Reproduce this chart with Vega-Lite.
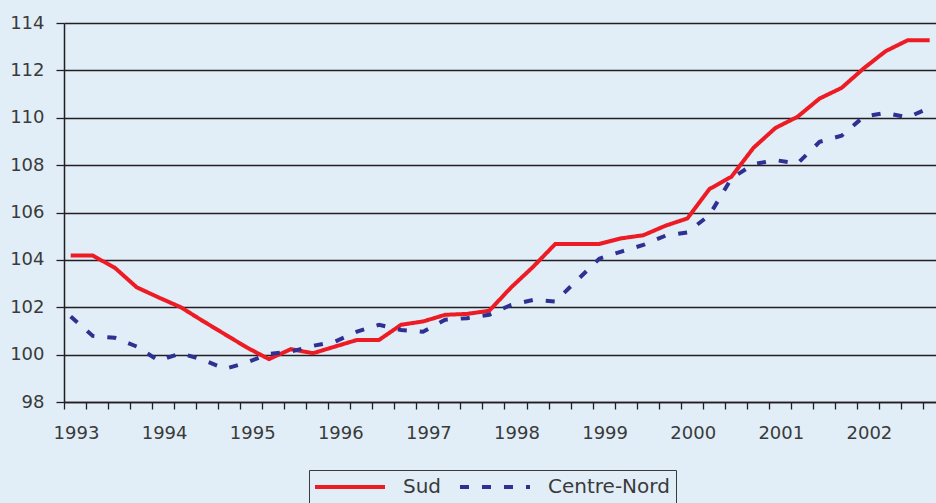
{
  "$schema": "https://vega.github.io/schema/vega-lite/v6.json",
  "width": 872,
  "height": 379,
  "autosize": {"type": "none"},
  "padding": {"left": 64, "top": 23, "right": 0, "bottom": 101},
  "background": "#e1eef7",
  "config": {"view": {"stroke": null, "fill": "#e1eef7"}, "font": "DejaVu Sans"},
  "data": {"values": [
    {"annee": 1993.00, "serie": "Sud", "indice": 104.18},
    {"annee": 1993.25, "serie": "Sud", "indice": 104.18},
    {"annee": 1993.50, "serie": "Sud", "indice": 103.67},
    {"annee": 1993.75, "serie": "Sud", "indice": 102.84},
    {"annee": 1994.00, "serie": "Sud", "indice": 102.41},
    {"annee": 1994.25, "serie": "Sud", "indice": 102.00},
    {"annee": 1994.50, "serie": "Sud", "indice": 101.42},
    {"annee": 1994.75, "serie": "Sud", "indice": 100.86},
    {"annee": 1995.00, "serie": "Sud", "indice": 100.30},
    {"annee": 1995.25, "serie": "Sud", "indice": 99.81},
    {"annee": 1995.50, "serie": "Sud", "indice": 100.23},
    {"annee": 1995.75, "serie": "Sud", "indice": 100.06},
    {"annee": 1996.00, "serie": "Sud", "indice": 100.34},
    {"annee": 1996.25, "serie": "Sud", "indice": 100.62},
    {"annee": 1996.50, "serie": "Sud", "indice": 100.62},
    {"annee": 1996.75, "serie": "Sud", "indice": 101.26},
    {"annee": 1997.00, "serie": "Sud", "indice": 101.40},
    {"annee": 1997.25, "serie": "Sud", "indice": 101.68},
    {"annee": 1997.50, "serie": "Sud", "indice": 101.72},
    {"annee": 1997.75, "serie": "Sud", "indice": 101.85},
    {"annee": 1998.00, "serie": "Sud", "indice": 102.84},
    {"annee": 1998.25, "serie": "Sud", "indice": 103.71},
    {"annee": 1998.50, "serie": "Sud", "indice": 104.67},
    {"annee": 1998.75, "serie": "Sud", "indice": 104.67},
    {"annee": 1999.00, "serie": "Sud", "indice": 104.67},
    {"annee": 1999.25, "serie": "Sud", "indice": 104.91},
    {"annee": 1999.50, "serie": "Sud", "indice": 105.04},
    {"annee": 1999.75, "serie": "Sud", "indice": 105.44},
    {"annee": 2000.00, "serie": "Sud", "indice": 105.75},
    {"annee": 2000.25, "serie": "Sud", "indice": 106.99},
    {"annee": 2000.50, "serie": "Sud", "indice": 107.51},
    {"annee": 2000.75, "serie": "Sud", "indice": 108.73},
    {"annee": 2001.00, "serie": "Sud", "indice": 109.57},
    {"annee": 2001.25, "serie": "Sud", "indice": 110.04},
    {"annee": 2001.50, "serie": "Sud", "indice": 110.81},
    {"annee": 2001.75, "serie": "Sud", "indice": 111.26},
    {"annee": 2002.00, "serie": "Sud", "indice": 112.08},
    {"annee": 2002.25, "serie": "Sud", "indice": 112.81},
    {"annee": 2002.50, "serie": "Sud", "indice": 113.27},
    {"annee": 2002.75, "serie": "Sud", "indice": 113.27},
    {"annee": 1993.00, "serie": "Centre-Nord", "indice": 101.61},
    {"annee": 1993.25, "serie": "Centre-Nord", "indice": 100.79},
    {"annee": 1993.50, "serie": "Centre-Nord", "indice": 100.71},
    {"annee": 1993.75, "serie": "Centre-Nord", "indice": 100.34},
    {"annee": 1994.00, "serie": "Centre-Nord", "indice": 99.74},
    {"annee": 1994.25, "serie": "Centre-Nord", "indice": 100.06},
    {"annee": 1994.50, "serie": "Centre-Nord", "indice": 99.78},
    {"annee": 1994.75, "serie": "Centre-Nord", "indice": 99.40},
    {"annee": 1995.00, "serie": "Centre-Nord", "indice": 99.67},
    {"annee": 1995.25, "serie": "Centre-Nord", "indice": 100.03},
    {"annee": 1995.50, "serie": "Centre-Nord", "indice": 100.13},
    {"annee": 1995.75, "serie": "Centre-Nord", "indice": 100.37},
    {"annee": 1996.00, "serie": "Centre-Nord", "indice": 100.55},
    {"annee": 1996.25, "serie": "Centre-Nord", "indice": 100.97},
    {"annee": 1996.50, "serie": "Centre-Nord", "indice": 101.26},
    {"annee": 1996.75, "serie": "Centre-Nord", "indice": 101.04},
    {"annee": 1997.00, "serie": "Centre-Nord", "indice": 100.97},
    {"annee": 1997.25, "serie": "Centre-Nord", "indice": 101.47},
    {"annee": 1997.50, "serie": "Centre-Nord", "indice": 101.54},
    {"annee": 1997.75, "serie": "Centre-Nord", "indice": 101.68},
    {"annee": 1998.00, "serie": "Centre-Nord", "indice": 102.10},
    {"annee": 1998.25, "serie": "Centre-Nord", "indice": 102.31},
    {"annee": 1998.50, "serie": "Centre-Nord", "indice": 102.24},
    {"annee": 1998.75, "serie": "Centre-Nord", "indice": 103.15},
    {"annee": 1999.00, "serie": "Centre-Nord", "indice": 104.05},
    {"annee": 1999.25, "serie": "Centre-Nord", "indice": 104.35},
    {"annee": 1999.50, "serie": "Centre-Nord", "indice": 104.63},
    {"annee": 1999.75, "serie": "Centre-Nord", "indice": 105.02},
    {"annee": 2000.00, "serie": "Centre-Nord", "indice": 105.16},
    {"annee": 2000.25, "serie": "Centre-Nord", "indice": 105.89},
    {"annee": 2000.50, "serie": "Centre-Nord", "indice": 107.44},
    {"annee": 2000.75, "serie": "Centre-Nord", "indice": 108.04},
    {"annee": 2001.00, "serie": "Centre-Nord", "indice": 108.21},
    {"annee": 2001.25, "serie": "Centre-Nord", "indice": 108.07},
    {"annee": 2001.50, "serie": "Centre-Nord", "indice": 108.98},
    {"annee": 2001.75, "serie": "Centre-Nord", "indice": 109.24},
    {"annee": 2002.00, "serie": "Centre-Nord", "indice": 110.04},
    {"annee": 2002.25, "serie": "Centre-Nord", "indice": 110.21},
    {"annee": 2002.50, "serie": "Centre-Nord", "indice": 110.01},
    {"annee": 2002.75, "serie": "Centre-Nord", "indice": 110.42}
  ]},
  "mark": {"type": "line", "strokeWidth": 4},
  "encoding": {
    "x": {
      "field": "annee",
      "type": "quantitative",
      "scale": {"domain": [1992.924, 2002.822], "nice": false, "zero": false},
      "axis": {
        "title": null,
        "values": [1992.924, 1993.174, 1993.424, 1993.674, 1993.924, 1994.174, 1994.424, 1994.674, 1994.924, 1995.174, 1995.424, 1995.674, 1995.924, 1996.174, 1996.424, 1996.674, 1996.924, 1997.174, 1997.424, 1997.674, 1997.924, 1998.174, 1998.424, 1998.674, 1998.924, 1999.174, 1999.424, 1999.674, 1999.924, 2000.174, 2000.424, 2000.674, 2000.924, 2001.174, 2001.424, 2001.674, 2001.924, 2002.174, 2002.424, 2002.674],
        "labelExpr": "round((datum.value - 1992.924) * 4) % 4 == 0 ? '' + (1993 + round((datum.value - 1992.924) * 4) / 4) : ''",
        "grid": false,
        "domainColor": "#231f20",
        "domainWidth": 1.5,
        "tickColor": "#231f20",
        "tickWidth": 1.3,
        "tickSize": 7,
        "labelOffset": 12,
        "labelPadding": 15,
        "labelFontSize": 18,
        "labelColor": "#3a3a3a",
        "labelOverlap": false,
        "labelFlush": false,
        "labelBound": false
      }
    },
    "y": {
      "field": "indice",
      "type": "quantitative",
      "scale": {"domain": [98, 114], "nice": false, "zero": false},
      "axis": {
        "title": null,
        "values": [98, 100, 102, 104, 106, 108, 110, 112, 114],
        "grid": true,
        "gridColor": "#231f20",
        "gridWidth": 1.3,
        "domainColor": "#231f20",
        "domainWidth": 1.5,
        "tickColor": "#231f20",
        "tickWidth": 1.3,
        "tickSize": 8,
        "labelPadding": 12,
        "labelFontSize": 18,
        "labelColor": "#3a3a3a"
      }
    },
    "color": {
      "field": "serie",
      "type": "nominal",
      "scale": {"domain": ["Sud", "Centre-Nord"], "range": ["#ed1c24", "#2e3192"]},
      "legend": {
        "title": null,
        "orient": "none",
        "direction": "horizontal",
        "legendX": 245,
        "legendY": 447,
        "padding": 6,
        "strokeColor": "#3a3a3a",
        "fillColor": "#e1eef7",
        "symbolType": "M-3.89,0H3.89",
        "symbolSize": 324,
        "symbolStrokeWidth": 4,
        "symbolOffset": 24,
        "labelFontSize": 20,
        "labelColor": "#3a3a3a",
        "labelOffset": 42,
        "columnPadding": 9,
        "encode": {"symbols": {"update": {"strokeDash": {"signal": "datum.value === 'Sud' ? [1, 0] : [10, 18]"}}}}
      }
    },
    "strokeDash": {
      "field": "serie",
      "type": "nominal",
      "scale": {"domain": ["Sud", "Centre-Nord"], "range": [[1, 0], [9, 13]]},
      "legend": {
        "title": null,
        "orient": "none",
        "direction": "horizontal",
        "legendX": 245,
        "legendY": 447,
        "padding": 6,
        "strokeColor": "#3a3a3a",
        "fillColor": "#e1eef7",
        "symbolType": "M-3.89,0H3.89",
        "symbolSize": 324,
        "symbolStrokeWidth": 4,
        "symbolOffset": 24,
        "labelFontSize": 20,
        "labelColor": "#3a3a3a",
        "labelOffset": 42,
        "columnPadding": 9,
        "encode": {"symbols": {"update": {"strokeDash": {"signal": "datum.value === 'Sud' ? [1, 0] : [10, 18]"}}}}
      }
    }
  }
}
